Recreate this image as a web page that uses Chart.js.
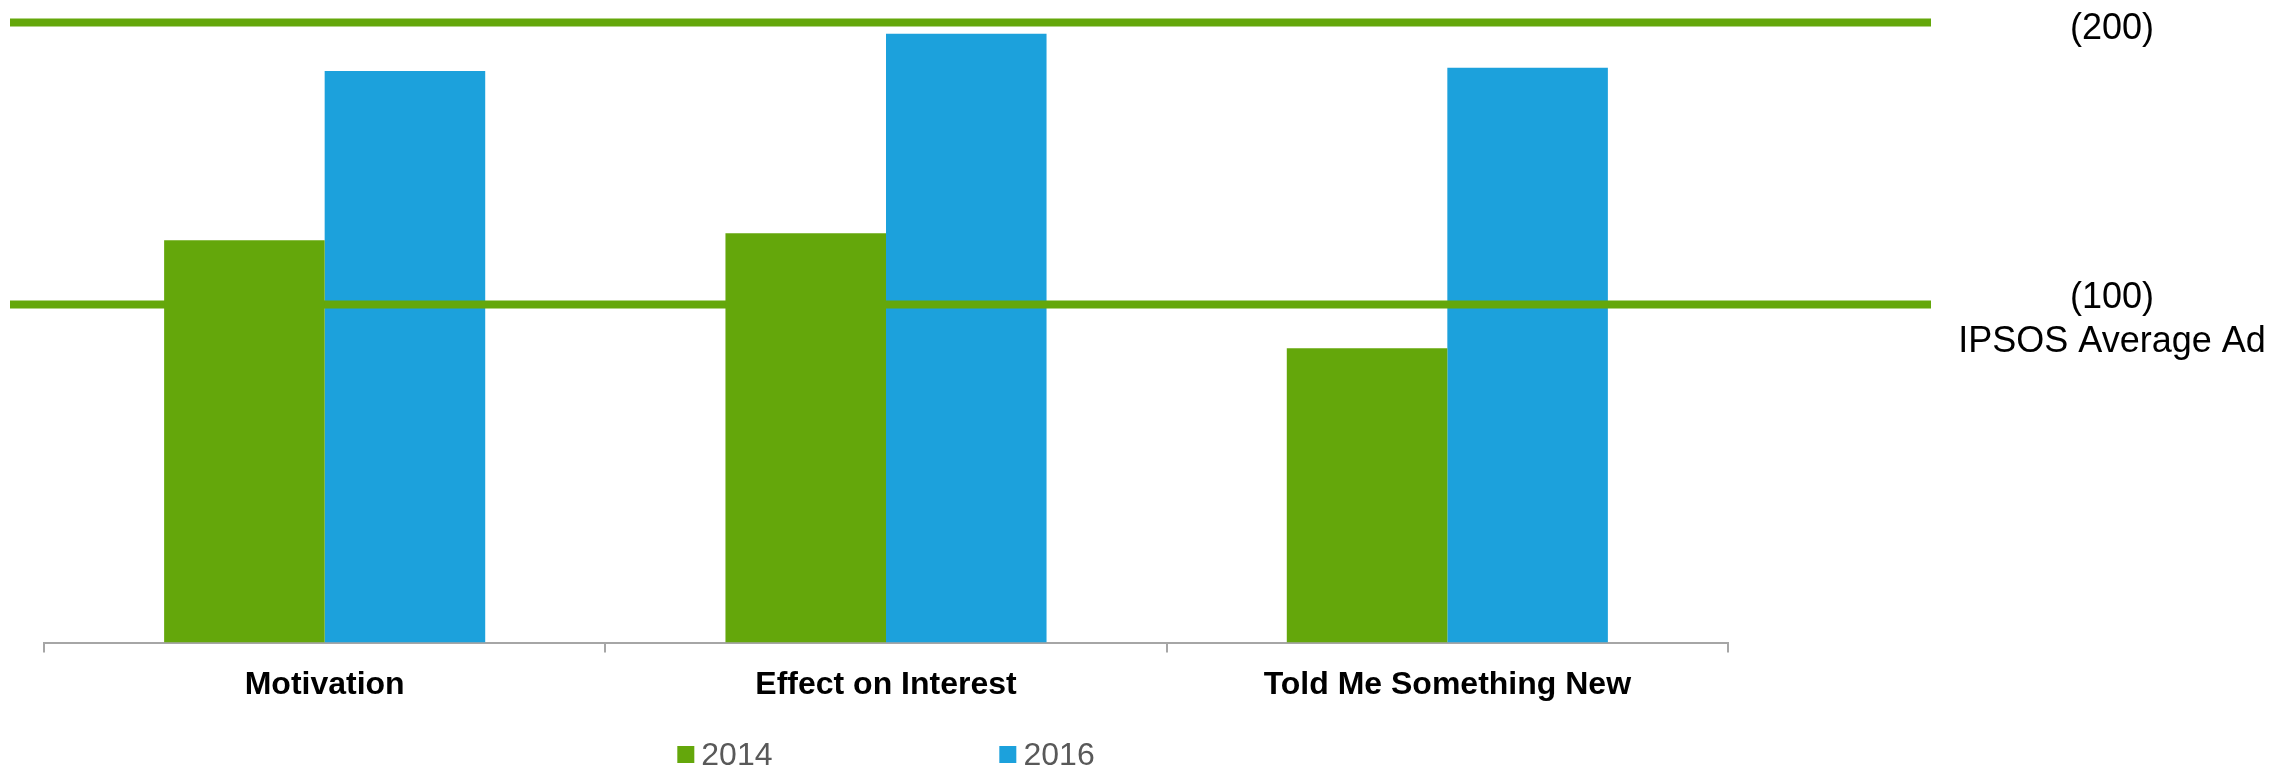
<!DOCTYPE html>
<html>
<head>
<meta charset="utf-8">
<title>Ad scores 2014 vs 2016</title>
<script src="https://cdn.jsdelivr.net/npm/chart.js@4/dist/chart.umd.min.js"></script>
<style>
  html, body { margin: 0; padding: 0; background: #ffffff; }
  #wrap { position: relative; width: 2295px; height: 769px; }
  #legend {
    position: absolute; top: 738px; height: 32px;
    display: flex; align-items: center; gap: 227px;
    transform: translateX(-50%);
    font-family: Arial, "Liberation Sans", sans-serif; font-size: 32px; line-height: 32px; color: #595959;
  }
  #legend .item { display: flex; align-items: center; white-space: nowrap; }
  #legend .box { width: 17px; height: 17px; margin-right: 7px; }
</style>
</head>
<body>
<div id="wrap">
  <canvas id="adChart" width="2295" height="769"></canvas>
  <div id="legend"></div>
</div>
<script>
// --- Chart data ---
const categories = ['Motivation', 'Effect on Interest', 'Told Me Something New'];
const years = ['2014', '2016'];
const scores2014 = [119, 121, 87];
const scores2016 = [169, 180, 170];

// benchmark lines and their captions
const refValues = [200, 100];
const refLabels = ['(200)', '(100)'];
const refNote = 'IPSOS Average Ad';

const GREEN = '#64a70b';
const BLUE = '#1ca1dc';
const FONT = 'Arial, "Liberation Sans", sans-serif';

// Benchmark lines: drawn just before the 2014 bars so they sit on top of 2016 and under 2014
const refLinesPlugin = {
    id: 'refLines',
    beforeDatasetDraw(chart, args) {
        if (args.index !== 0) return;
        const { ctx, chartArea, scales } = chart;
        ctx.save();
        ctx.strokeStyle = GREEN;
        ctx.lineWidth = 8;
        refValues.forEach(v => {
            const y = scales.ref.getPixelForValue(v);
            ctx.beginPath();
            ctx.moveTo(chartArea.left - 34, y);
            ctx.lineTo(chartArea.right + 203, y);
            ctx.stroke();
        });
        ctx.restore();
    },
    afterDraw(chart) {
        const { ctx, scales } = chart;
        const x = 2112;
        ctx.save();
        ctx.fillStyle = '#000000';
        ctx.font = '36px ' + FONT;
        ctx.textAlign = 'center';
        ctx.textBaseline = 'middle';
        const y200 = scales.ref.getPixelForValue(refValues[0]);
        const y100 = scales.ref.getPixelForValue(refValues[1]);
        ctx.fillText(refLabels[0], x, y200 + 7);
        ctx.fillText(refLabels[1], x, y100 - 6);
        ctx.fillText(refNote, x, y100 + 38);
        ctx.restore();
    }
};

// HTML legend so the two entries can be spaced out under the plot
const htmlLegendPlugin = {
    id: 'htmlLegend',
    afterUpdate(chart) {
        const box = document.getElementById('legend');
        box.innerHTML = '';
        const items = chart.options.plugins.legend.labels.generateLabels(chart);
        items.forEach(item => {
            const el = document.createElement('div');
            el.className = 'item';
            const swatch = document.createElement('span');
            swatch.className = 'box';
            swatch.style.background = item.fillStyle;
            const label = document.createElement('span');
            label.textContent = item.text;
            el.appendChild(swatch);
            el.appendChild(label);
            box.appendChild(el);
        });
        const area = chart.chartArea;
        box.style.left = ((area.left + area.right) / 2) + 'px';
    }
};

const ctx = document.getElementById('adChart').getContext('2d');
const adChart = new Chart(ctx, {
    type: 'bar',
    data: {
        labels: categories,
        datasets: [
            { label: years[0], data: scores2014, backgroundColor: GREEN, borderWidth: 0 },
            { label: years[1], data: scores2016, backgroundColor: BLUE, borderWidth: 0 }
        ]
    },
    options: {
        responsive: false,
        animation: false,
        categoryPercentage: 0.572,
        barPercentage: 1.0,
        layout: { padding: { left: 44, right: 567, top: 0, bottom: 52 } },
        scales: {
            x: {
                border: { display: true, color: '#a6a6a6', width: 2 },
                grid: { drawOnChartArea: false, drawTicks: true, tickLength: 10, color: '#a6a6a6', lineWidth: 2 },
                ticks: { color: '#000000', padding: 13, font: { family: FONT, size: 32, weight: 'bold' } }
            },
            y: { display: false, min: 0, max: 190 },
            ref: { display: false, min: -20, max: 208 }
        },
        plugins: {
            legend: { display: false },
            tooltip: { enabled: false }
        }
    },
    plugins: [refLinesPlugin, htmlLegendPlugin]
});
</script>
</body>
</html>
